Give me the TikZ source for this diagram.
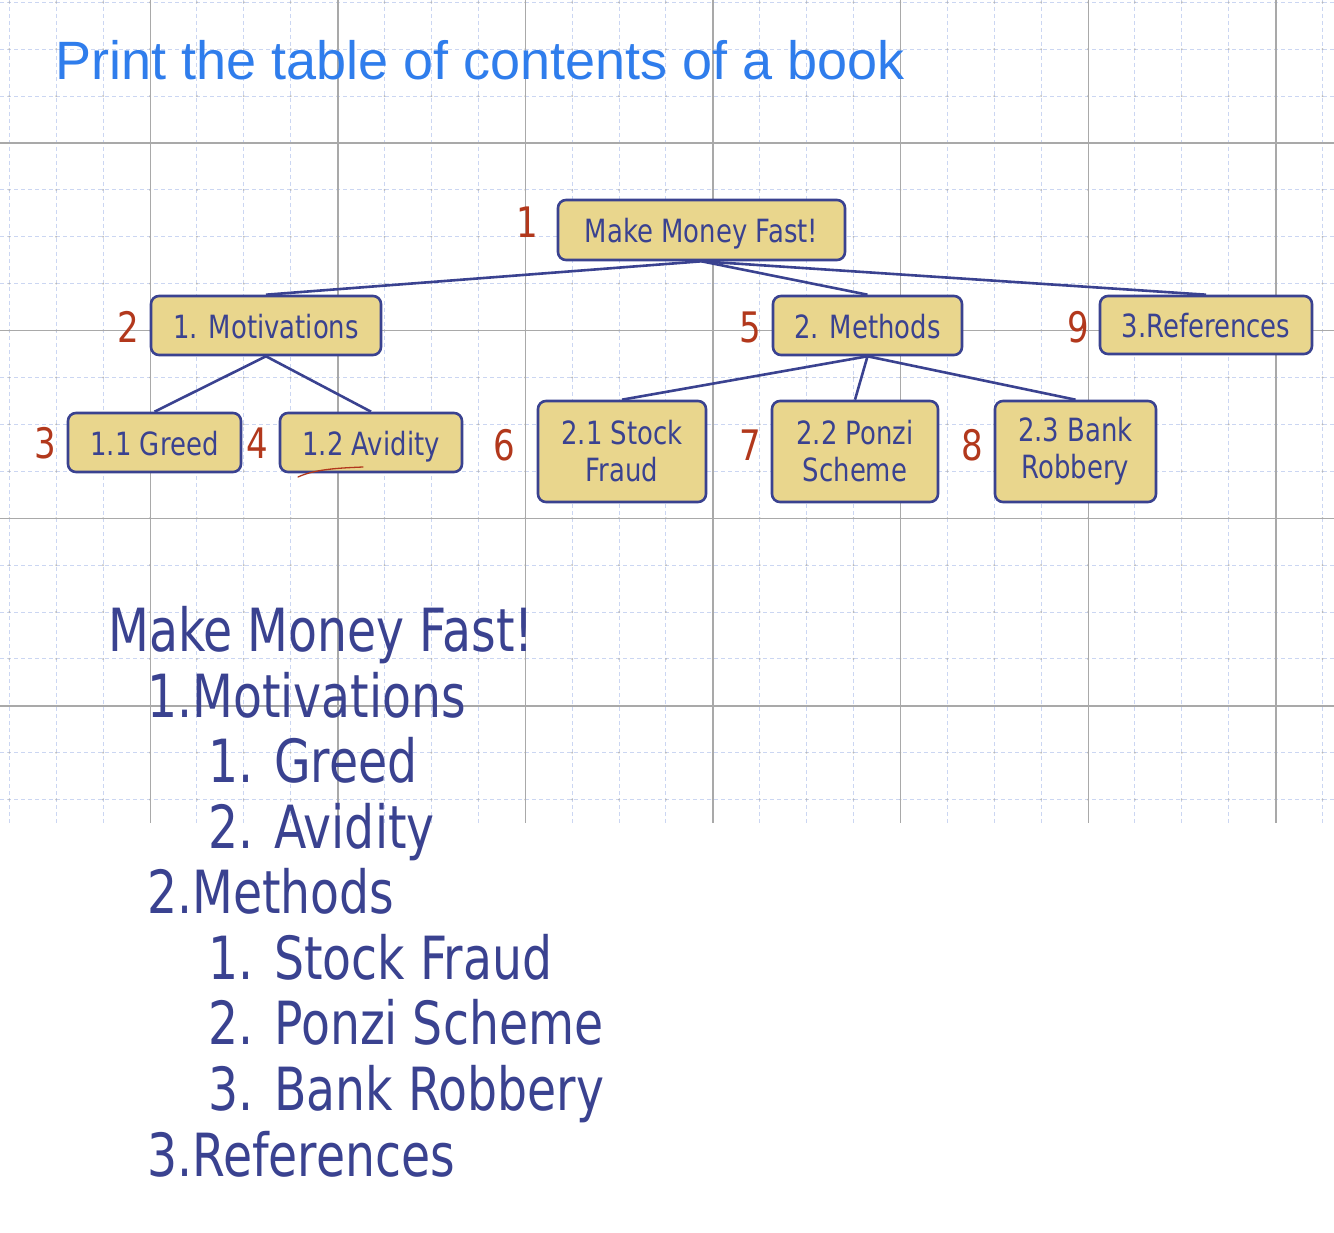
\documentclass[tikz,border=0pt]{standalone}
\usepackage{fontspec}
\setmainfont{DejaVu Sans}
\newfontfamily\bx[FakeStretch=0.81]{DejaVu Sans}
\newfontfamily\lx[FakeStretch=0.795]{DejaVu Sans}
\newfontfamily\ttl{Liberation Sans}
\definecolor{ink}{HTML}{3A4290}
\definecolor{boxfill}{HTML}{E9D68D}
\definecolor{numred}{HTML}{B2381C}
\definecolor{ttlblue}{HTML}{2F7DEC}
\definecolor{minorgrid}{HTML}{CBD6F2}
\definecolor{majorgrid}{HTML}{A9A9A9}
\tikzset{
  tocbox/.style={draw=ink, line width=2.6pt, fill=boxfill, rounded corners=8pt, inner sep=0pt, text=ink, align=center, font=\bx\fontsize{32}{37}\selectfont},
  oneline/.style={text height=26pt, text depth=0pt},
  num/.style={text=numred, inner sep=0pt, font=\bx\fontsize{42}{42}\selectfont},
  edge/.style={draw=ink, line width=2.6pt},
  listtext/.style={text=ink, inner sep=0pt, anchor=base west, font=\lx\fontsize{59.5}{62}\selectfont},
  minorline/.style={draw=minorgrid, line width=0.9pt, dash pattern=on 4pt off 3pt},
  majorline/.style={draw=majorgrid, line width=1.5pt}
}
\begin{document}
\begin{tikzpicture}[x=1pt,y=-1pt]
\fill[white] (0,0) rectangle (1334,1233);
\useasboundingbox (0,0) rectangle (1334,1233);
% grid
\foreach \i in {0,...,28} \draw[minorline] ({9.3+46.9*\i},0) -- ({9.3+46.9*\i},823);
\foreach \k in {0,...,17} \draw[minorline] (0,{2.3+46.9*\k}) -- (1334,{2.3+46.9*\k});
\foreach \i in {0,...,28} \foreach \k in {0,...,17} \fill[gray!55] ({9.3+46.9*\i},{2.3+46.9*\k}) circle (1pt);
\foreach \i in {0,...,6} \draw[majorline] ({150.3+187.6*\i},0) -- ({150.3+187.6*\i},823);
\foreach \k in {0,...,3} \draw[majorline] (0,{143+187.7*\k}) -- (1334,{143+187.7*\k});
% title
\node[anchor=base west, inner sep=0pt, text=ttlblue, font=\ttl\fontsize{54}{56}\selectfont] (title) at (55,80) {Print the table of contents of a book};
% boxes
\node[tocbox, oneline, minimum width=287pt, minimum height=60pt] (root) at (701.5,230) {Make Money Fast!};
\node[tocbox, oneline, minimum width=230pt, minimum height=59pt] (mot) at (266,325.5) {1. Motivations};
\node[tocbox, oneline, minimum width=189pt, minimum height=59pt] (meth) at (867.5,325.5) {2. Methods};
\node[tocbox, oneline, minimum width=212pt, minimum height=58pt] (ref) at (1206,325) {3.References};
\node[tocbox, oneline, minimum width=173pt, minimum height=59pt] (greed) at (154.5,442.5) {1.1 Greed};
\node[tocbox, oneline, minimum width=182pt, minimum height=59pt] (avid) at (371,442.5) {1.2 Avidity};
\node[tocbox, minimum width=168pt, minimum height=101pt] (stock) at (622,451.5) {2.1 Stock\\Fraud};
\node[tocbox, minimum width=166pt, minimum height=101pt] (ponzi) at (855,451.5) {2.2 Ponzi\\Scheme};
\node[tocbox, minimum width=161pt, minimum height=101pt] (bank) at (1075.5,451.5) {2.3 Bank\\Robbery};
% connectors
\draw[edge] (root.south) -- (mot.north);
\draw[edge] (root.south) -- (meth.north);
\draw[edge] (root.south) -- (ref.north);
\draw[edge] (mot.south) -- (greed.north);
\draw[edge] (mot.south) -- (avid.north);
\draw[edge] (meth.south) -- (stock.north);
\draw[edge] (meth.south) -- (ponzi.north);
\draw[edge] (meth.south) -- (bank.north);
% red squiggle
\draw[numred, line width=1.3pt, line cap=round] (298,477) .. controls (315,469) and (340,468) .. (363,467);
% numbers
\node[num] (n1) at (527,222) {1};
\node[num] (n2) at (128,327) {2};
\node[num] (n3) at (45,443) {3};
\node[num] (n4) at (257,443) {4};
\node[num] (n5) at (750,327) {5};
\node[num] (n6) at (504,445) {6};
\node[num] (n7) at (750,445) {7};
\node[num] (n8) at (972,445) {8};
\node[num] (n9) at (1078,327) {9};
% list
\node[listtext] (l0) at (108,651) {Make Money Fast!};
\node[listtext] (l1) at (147,717) {1.Motivations};
\node[listtext] (l2n) at (208,782) {1.};
\node[listtext] (l2) at (274,782) {Greed};
\node[listtext] (l3n) at (208,848) {2.};
\node[listtext] (l3) at (274,848) {Avidity};
\node[listtext] (l4) at (147,913) {2.Methods};
\node[listtext] (l5n) at (208,979) {1.};
\node[listtext] (l5) at (274,979) {Stock Fraud};
\node[listtext] (l6n) at (208,1044) {2.};
\node[listtext] (l6) at (274,1044) {Ponzi Scheme};
\node[listtext] (l7n) at (208,1110) {3.};
\node[listtext] (l7) at (274,1110) {Bank Robbery};
\node[listtext] (l8) at (147,1176) {3.References};
\end{tikzpicture}
\end{document}
